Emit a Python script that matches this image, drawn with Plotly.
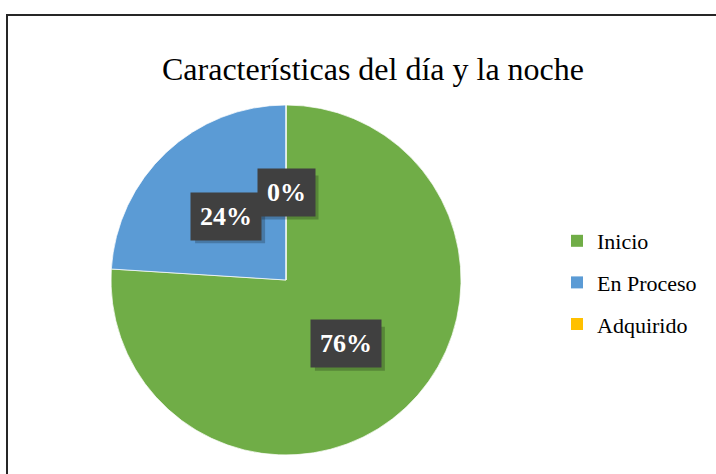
import math
import plotly.graph_objects as go

categories = ["Inicio", "En Proceso", "Adquirido"]
values = [76, 24, 0]
colors = ["#70AD47", "#5B9BD5", "#FFC000"]
title_text = "Características del día y la noche"

W, H = 716, 474
cx, cy, r = 286, 280, 175  # pie placement in px

dom_x = [(cx - r) / W, (cx + r) / W]
dom_y = [(H - cy - r) / H, (H - cy + r) / H]

fig = go.Figure()
fig.add_trace(go.Pie(
    labels=categories, values=values, sort=False, direction="clockwise",
    rotation=0, textinfo="none", hoverinfo="label+percent",
    marker=dict(colors=colors, line=dict(color="white", width=0.7)),
    domain=dict(x=dom_x, y=dom_y), showlegend=False,
))

# legend entries
for c, col in zip(categories, colors):
    fig.add_trace(go.Scatter(
        x=[None], y=[None], mode="markers", name=c, legendgroup=c,
        marker=dict(symbol="square", size=12, color=col),
        showlegend=True,
    ))

# data labels placed along the slice mid-angle at half radius
total = sum(values)
cum = 0
for v in values:
    mid = (cum + v / 2) / total
    cum += v
    ang = 2 * math.pi * mid
    px = cx + 0.5 * r * math.sin(ang)
    py = cy - 0.5 * r * math.cos(ang)
    pct = f"{round(100 * v / total)}%"
    bw = 18 + 13 * (len(pct) - 1) + 26
    bh = 44
    # soft drop shadow behind the label box
    fig.add_shape(type="rect", xref="paper", yref="paper", layer="above",
                  x0=(px - bw / 2 + 4) / W, x1=(px + bw / 2 + 4) / W,
                  y0=(H - py - bh / 2 - 5) / H, y1=(H - py + bh / 2 - 5) / H,
                  fillcolor="rgba(0,0,0,0.22)", line=dict(width=0))
    fig.add_annotation(
        x=px / W, y=(H - py) / H, xref="paper", yref="paper",
        xanchor="center", yanchor="middle",
        text=f"<b>{pct}</b>", showarrow=False, bgcolor="#404040", borderpad=9,
        font=dict(family="Liberation Serif", size=26, color="white"),
    )

fig.add_shape(type="rect", xref="paper", yref="paper",
              x0=7 / W, x1=1.05, y0=-0.05, y1=(H - 15) / H,
              line=dict(color="#262626", width=2))

fig.update_layout(
    width=W, height=H, margin=dict(l=0, r=0, t=0, b=0),
    paper_bgcolor="white", plot_bgcolor="white",
    title=dict(text=title_text, x=373 / W, xanchor="center",
               y=(H - 69) / H, yanchor="middle",
               font=dict(family="Liberation Serif", size=32, color="#000")),
    xaxis=dict(visible=False), yaxis=dict(visible=False),
    legend=dict(x=557 / W, y=(H - 220) / H, xanchor="left", yanchor="top",
                font=dict(family="Liberation Serif", size=22, color="#000"),
                tracegroupgap=10, itemsizing="constant", bgcolor="rgba(0,0,0,0)"),
)

fig.write_html("out.html", config={"displayModeBar": False},
               post_script="document.body.style.margin='0';document.body.style.overflow='hidden';")
